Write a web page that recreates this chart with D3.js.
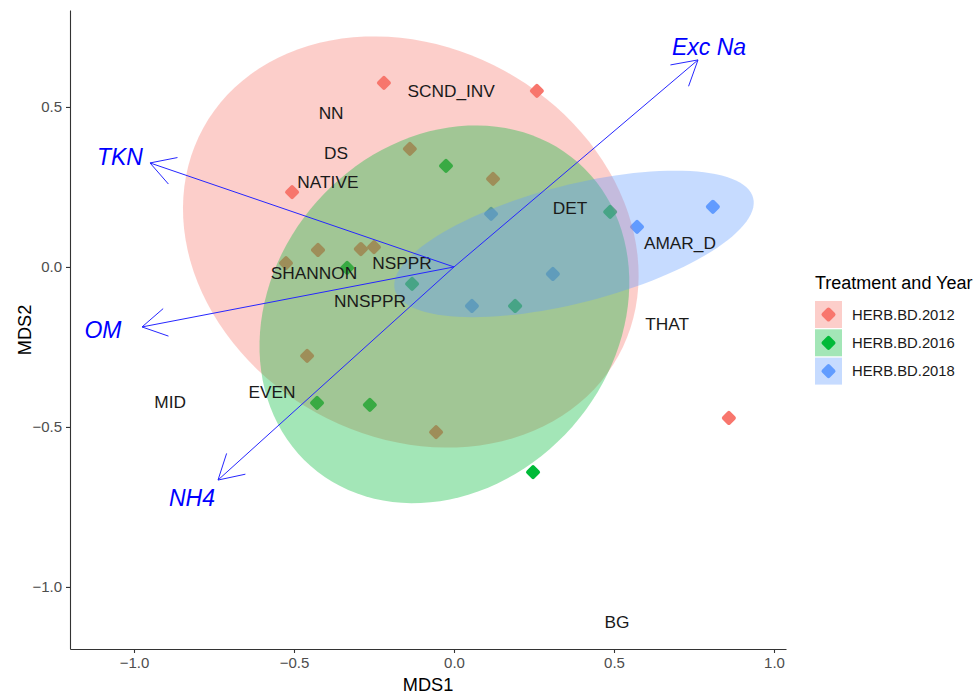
<!DOCTYPE html>
<html>
<head>
<meta charset="utf-8">
<script src="https://cdn.jsdelivr.net/npm/d3@7/dist/d3.min.js"></script>
<style>
  body { margin: 0; background: #fff; }
  text { font-family: "Liberation Sans", Arial, sans-serif; }
</style>
</head>
<body>
<svg id="chart"></svg>
<script>
// groups (treatment and year)
const groups = ["HERB.BD.2012", "HERB.BD.2016", "HERB.BD.2018"];
const groupColors = ["#F8766D", "#00BA38", "#619CFF"];

// site scores [MDS1, MDS2] per group
const sites2012 = [[-0.219, 0.575], [0.259, 0.55], [-0.506, 0.234], [-0.138, 0.369], [0.122, 0.275],
  [-0.425, 0.053], [-0.291, 0.056], [-0.25, 0.062], [-0.525, 0.012], [-0.459, -0.278],
  [-0.056, -0.516], [0.859, -0.472]];
const sites2016 = [[-0.025, 0.316], [0.488, 0.172], [-0.334, -0.003], [-0.131, -0.053],
  [0.191, -0.122], [-0.428, -0.425], [-0.263, -0.431], [0.247, -0.641]];
const sites2018 = [[0.116, 0.166], [0.572, 0.125], [0.809, 0.188], [0.309, -0.022], [0.056, -0.122]];

// group ellipses: centre, semi-axes, rotation (degrees)
const ellipseCentre = [[-0.135, 0.078], [-0.03, -0.148], [0.375, 0.072]];
const ellipseAxes = [[0.74, 0.61], [0.632, 0.532], [0.578, 0.184]];
const ellipseAngle = [-28.8, 48.6, 14.4];

// species scores
const speciesNames = ["NN", "DS", "NATIVE", "SCND_INV", "DET", "AMAR_D", "SHANNON", "NSPPR",
  "NNSPPR", "EVEN", "MID", "THAT", "BG"];
const speciesX = [-0.384, -0.369, -0.394, -0.009, 0.3625, 0.706, -0.4375, -0.1625, -0.2625, -0.569, -0.887, 0.666, 0.509];
const speciesY = [0.481, 0.356, 0.266, 0.55, 0.184, 0.075, -0.019, 0.0125, -0.106, -0.391, -0.422, -0.178, -1.109];

// environmental vectors
const vectorNames = ["TKN", "Exc Na", "OM", "NH4"];
const vectorX = [-0.95, 0.7625, -0.975, -0.7375];
const vectorY = [0.325, 0.647, -0.1875, -0.666];
const vectorLabelX = [-1.044, 0.797, -1.097, -0.819];
const vectorLabelY = [0.344, 0.6875, -0.197, -0.722];

// axes
const xTicks = [-1, -0.5, 0, 0.5, 1];
const yTicks = [-1, -0.5, 0, 0.5];
const xDomain = [-1.2, 1.0375];
const yDomain = [-1.194, 0.803];

const width = 975, height = 695;
const svg = d3.select("#chart").attr("width", width).attr("height", height);

const x = d3.scaleLinear().domain(xDomain).range([70, 786]);
const y = d3.scaleLinear().domain(yDomain).range([649, 10]);

const fmt = d => (d < 0 ? "\u2212" : "") + Math.abs(d).toFixed(1);
const alpha = 0.36;

// points (drawn under the ellipses), rounded diamonds
const diamond = "M0,-5L5,0L0,5L-5,0Z";
const allSites = [sites2012, sites2016, sites2018];
allSites.forEach(function (pts, i) {
  svg.append("g").selectAll("path")
    .data(pts)
    .enter()
    .append("path")
    .attr("d", diamond)
    .attr("transform", d => "translate(" + x(d[0]) + "," + y(d[1]) + ")")
    .attr("fill", groupColors[i])
    .attr("stroke", groupColors[i])
    .attr("stroke-width", 4)
    .attr("stroke-linejoin", "round");
});

// ellipses
const line = d3.line().x(d => x(d[0])).y(d => y(d[1]));
groups.forEach(function (g, i) {
  const c = ellipseCentre[i], a = ellipseAxes[i][0], b = ellipseAxes[i][1];
  const phi = ellipseAngle[i] * Math.PI / 180;
  const ring = d3.range(0, 361, 3).map(function (deg) {
    const t = deg * Math.PI / 180;
    return [c[0] + a * Math.cos(t) * Math.cos(phi) - b * Math.sin(t) * Math.sin(phi),
            c[1] + a * Math.cos(t) * Math.sin(phi) + b * Math.sin(t) * Math.cos(phi)];
  });
  svg.append("path")
    .attr("d", line(ring) + "Z")
    .attr("fill", groupColors[i])
    .attr("fill-opacity", alpha);
});

// species labels
svg.append("g").selectAll("text")
  .data(speciesNames)
  .enter()
  .append("text")
  .attr("x", (d, i) => x(speciesX[i]))
  .attr("y", (d, i) => y(speciesY[i]))
  .attr("dy", "0.36em")
  .attr("text-anchor", "middle")
  .attr("font-size", 17.3)
  .attr("fill", "#1a1a1a")
  .text(d => d);

// vectors
const vg = svg.append("g");
vectorNames.forEach(function (name, i) {
  const x0 = x(0), y0 = y(0), x1 = x(vectorX[i]), y1 = y(vectorY[i]);
  const ang = Math.atan2(y0 - y1, x0 - x1);
  const len = 28, spread = Math.PI / 6;
  vg.append("line")
    .attr("x1", x0).attr("y1", y0).attr("x2", x1).attr("y2", y1)
    .attr("stroke", "#2626ff").attr("stroke-width", 1);
  [-spread, spread].forEach(function (s) {
    vg.append("line")
      .attr("x1", x1).attr("y1", y1)
      .attr("x2", x1 + len * Math.cos(ang + s))
      .attr("y2", y1 + len * Math.sin(ang + s))
      .attr("stroke", "#2626ff").attr("stroke-width", 1);
  });
  vg.append("text")
    .attr("x", x(vectorLabelX[i]))
    .attr("y", y(vectorLabelY[i]))
    .attr("dy", "0.36em")
    .attr("text-anchor", "middle")
    .attr("font-size", 23)
    .attr("font-style", "italic")
    .attr("fill", "#0000ff")
    .text(name);
});

// axes
const xAxis = svg.append("g")
  .attr("transform", "translate(0," + 649 + ")")
  .call(d3.axisBottom(x).tickValues(xTicks).tickFormat(fmt).tickSizeOuter(0).tickSizeInner(4).tickPadding(4));
const yAxis = svg.append("g")
  .attr("transform", "translate(" + 70 + ",0)")
  .call(d3.axisLeft(y).tickValues(yTicks).tickFormat(fmt).tickSizeOuter(0).tickSizeInner(4).tickPadding(4));
[xAxis, yAxis].forEach(function (ax) {
  ax.select(".domain").attr("stroke", "#333").attr("stroke-width", 1.1);
  ax.selectAll(".tick line").attr("stroke", "#333").attr("stroke-width", 1.1);
  ax.selectAll(".tick text").attr("fill", "#4d4d4d").attr("font-size", 15)
    .attr("font-family", "\"Liberation Sans\", Arial, sans-serif");
});

svg.append("text")
  .attr("x", 428).attr("y", 691)
  .attr("text-anchor", "middle")
  .attr("font-size", 18.2)
  .attr("fill", "#000")
  .text("MDS1");
svg.append("text")
  .attr("transform", "translate(31,330) rotate(-90)")
  .attr("text-anchor", "middle")
  .attr("font-size", 18.2)
  .attr("fill", "#000")
  .text("MDS2");

// legend
const legend = svg.append("g").attr("transform", "translate(815,0)");
legend.append("text")
  .attr("x", 0).attr("y", 283)
  .attr("dy", "0.36em")
  .attr("font-size", 18)
  .attr("fill", "#000")
  .text("Treatment and Year");
const keys = legend.selectAll("g.key")
  .data(groups)
  .enter()
  .append("g")
  .attr("class", "key")
  .attr("transform", (d, i) => "translate(0," + (301 + i * 28.3) + ")");
keys.append("rect")
  .attr("width", 27).attr("height", 27)
  .attr("fill", (d, i) => groupColors[i])
  .attr("fill-opacity", alpha);
keys.append("path")
  .attr("d", diamond)
  .attr("transform", "translate(13.5,13.5)")
  .attr("fill", (d, i) => groupColors[i])
  .attr("stroke", (d, i) => groupColors[i])
  .attr("stroke-width", 4)
  .attr("stroke-linejoin", "round");
keys.append("text")
  .attr("x", 37).attr("y", 13.5)
  .attr("dy", "0.36em")
  .attr("font-size", 14.8)
  .attr("fill", "#1a1a1a")
  .text(d => d);
</script>
</body>
</html>
